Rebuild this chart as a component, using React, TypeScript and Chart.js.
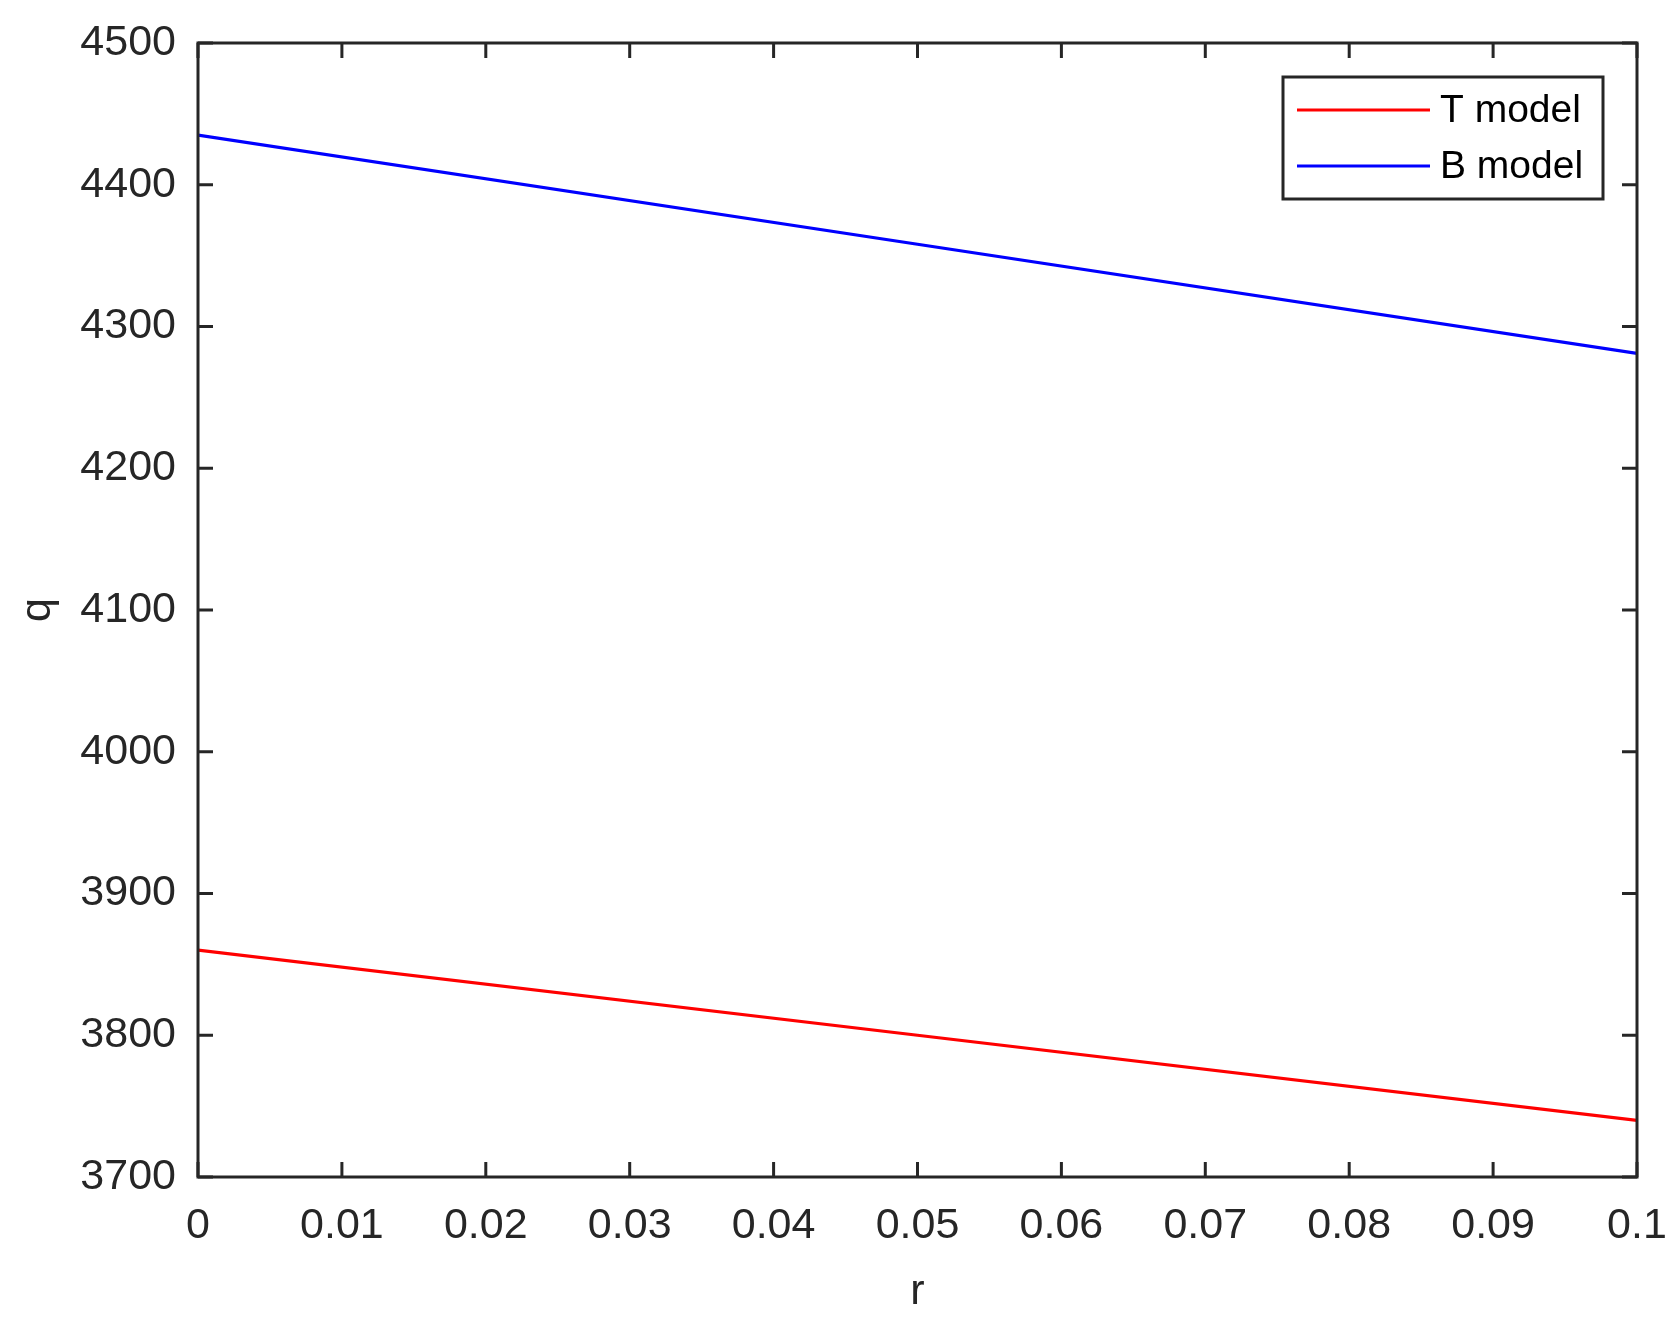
import React, { useEffect, useRef } from "react";
import { Chart, registerables } from "chart.js";

Chart.register(...registerables);

const rValues = [0, 0.05, 0.1];
const tModel = [3860, 3800, 3740];
const bModel = [4435, 4358, 4281];
const seriesLabels = ["T model", "B model"];
const seriesColors = ["#ff0000", "#0000ff"];
const xTickStep = 0.01;
const yTickStep = 100;

const AXIS = "#262626";
const FONT = "'Liberation Sans', Arial, sans-serif";

const frameAndLegend = {
  id: "frameAndLegend",
  afterDraw(chart: any) {
    const ctx = chart.ctx;
    const { left, right, top, bottom } = chart.chartArea;
    const xs = chart.scales.x;
    const ys = chart.scales.y;
    ctx.save();
    ctx.strokeStyle = AXIS;
    ctx.lineWidth = 3;
    ctx.lineCap = "butt";
    const tl = 15;
    ctx.beginPath();
    xs.ticks.forEach((t: any) => {
      const px = xs.getPixelForValue(t.value);
      ctx.moveTo(px, bottom);
      ctx.lineTo(px, bottom - tl);
      ctx.moveTo(px, top);
      ctx.lineTo(px, top + tl);
    });
    ys.ticks.forEach((t: any) => {
      const py = ys.getPixelForValue(t.value);
      ctx.moveTo(left, py);
      ctx.lineTo(left + tl, py);
      ctx.moveTo(right, py);
      ctx.lineTo(right - tl, py);
    });
    ctx.stroke();
    ctx.strokeRect(left, top, right - left, bottom - top);

    // legend
    const bx = right - 354;
    const by = top + 34;
    const bw = 320;
    const bh = 122;
    ctx.fillStyle = "#ffffff";
    ctx.fillRect(bx, by, bw, bh);
    ctx.lineWidth = 3;
    ctx.strokeStyle = AXIS;
    ctx.strokeRect(bx, by, bw, bh);
    ctx.font = `39px ${FONT}`;
    ctx.textBaseline = "middle";
    ctx.textAlign = "left";
    chart.data.datasets.forEach((ds: any, i: number) => {
      const ry = by + 33 + i * 56;
      ctx.strokeStyle = ds.borderColor;
      ctx.lineWidth = 3;
      ctx.beginPath();
      ctx.moveTo(bx + 14, ry);
      ctx.lineTo(bx + 147, ry);
      ctx.stroke();
      ctx.fillStyle = "#000000";
      ctx.fillText(ds.label, bx + 157, ry + 1);
    });
    ctx.restore();
  },
};

export default function App() {
  const ref = useRef<HTMLCanvasElement | null>(null);
  useEffect(() => {
    document.body.style.margin = "0";
    const toPts = (vals: number[]) => rValues.map((x, i) => ({ x, y: vals[i] }));
    const chart = new Chart(ref.current as HTMLCanvasElement, {
      type: "line",
      data: {
        datasets: [
          {
            label: seriesLabels[0],
            data: toPts(tModel),
            borderColor: seriesColors[0],
            borderWidth: 3.2,
            pointRadius: 0,
            fill: false,
            tension: 0,
          },
          {
            label: seriesLabels[1],
            data: toPts(bModel),
            borderColor: seriesColors[1],
            borderWidth: 3.2,
            pointRadius: 0,
            fill: false,
            tension: 0,
          },
        ],
      },
      options: {
        animation: false,
        responsive: true,
        maintainAspectRatio: false,
        layout: { padding: { top: 43, right: 42, left: 0, bottom: 0 } },
        plugins: { legend: { display: false }, tooltip: { enabled: false } },
        scales: {
          x: {
            type: "linear",
            min: 0,
            max: 0.1,
            grid: { display: false, drawTicks: false },
            border: { display: false },
            ticks: {
              stepSize: xTickStep,
              padding: 23,
              color: AXIS,
              font: { family: FONT, size: 43 },
              maxRotation: 0,
              autoSkip: false,
              callback: (v: any) => String(Math.round(Number(v) * 100) / 100),
            },
            title: {
              display: true,
              text: "r",
              color: AXIS,
              font: { family: FONT, size: 43 },
              padding: { top: 0, bottom: 12 },
            },
            afterFit: (s: any) => {
              s.height = 153;
              s.paddingLeft = 0;
              s.paddingRight = 0;
            },
          },
          y: {
            type: "linear",
            min: 3700,
            max: 4500,
            grid: { display: false, drawTicks: false },
            border: { display: false },
            ticks: {
              stepSize: yTickStep,
              padding: 22,
              color: AXIS,
              font: { family: FONT, size: 43 },
              autoSkip: false,
              callback: (v: any) => String(v),
            },
            title: {
              display: true,
              text: "q",
              color: AXIS,
              font: { family: FONT, size: 43 },
              padding: { top: 12, bottom: 0 },
            },
            afterFit: (s: any) => {
              s.width = 198;
              s.paddingTop = 0;
              s.paddingBottom = 0;
            },
          },
        },
      },
      plugins: [frameAndLegend],
    });
    return () => chart.destroy();
  }, []);
  return (
    <div style={{ width: 1679, height: 1330, position: "relative", background: "#fff" }}>
      <canvas ref={ref} />
    </div>
  );
}
